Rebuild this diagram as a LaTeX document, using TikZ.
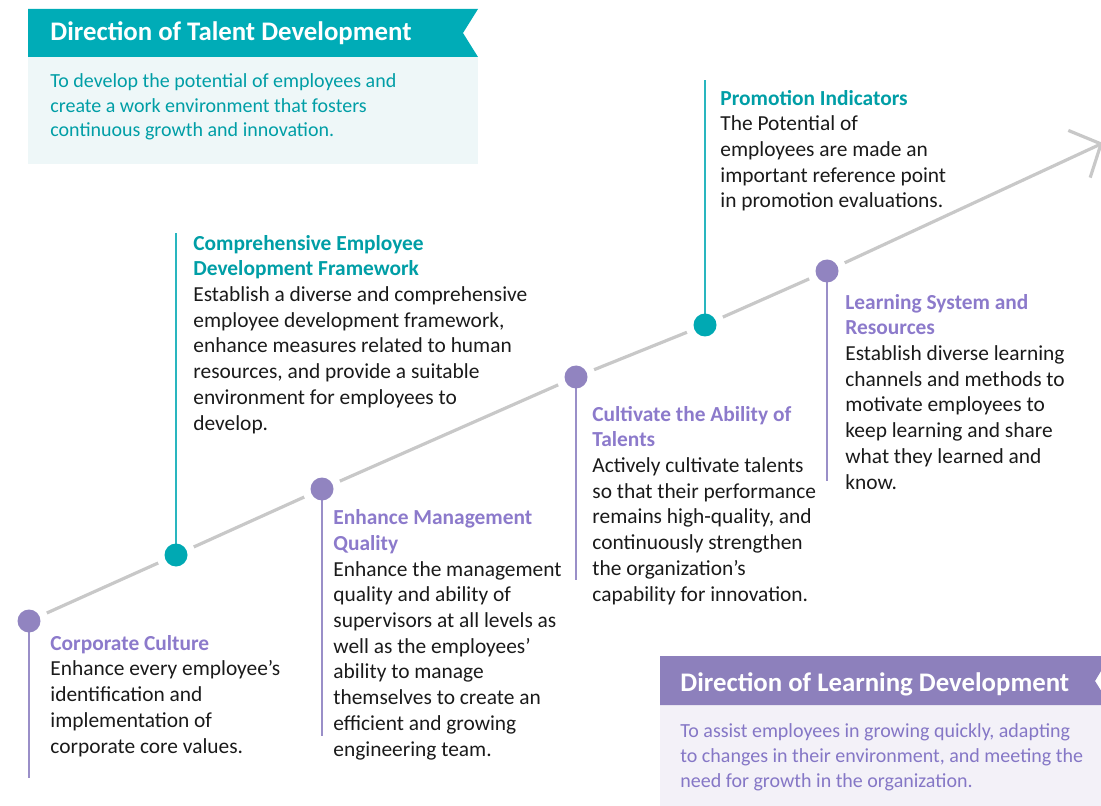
\documentclass[tikz,border=0pt]{standalone}
\usepackage{fontspec}
\setmainfont{Carlito}
\usetikzlibrary{arrows.meta,backgrounds,positioning}

\definecolor{talentteal}{HTML}{00ACB7}
\definecolor{dotteal}{HTML}{00A9B3}
\definecolor{stemteal}{HTML}{29B6BF}
\definecolor{talenttext}{HTML}{009EA6}
\definecolor{talentpale}{HTML}{EEF7F8}
\definecolor{learnpurple}{HTML}{8D80BC}
\definecolor{dotpurple}{HTML}{9184C0}
\definecolor{stempurple}{HTML}{9A8FC8}
\definecolor{purpletext}{HTML}{8C7ACB}
\definecolor{learntext}{HTML}{8577C6}
\definecolor{learnpale}{HTML}{F3F1F8}
\definecolor{trackgray}{HTML}{C8C8C8}
\definecolor{bodyblack}{HTML}{1A1A1A}

\newcommand{\stagetitle}[2]{\textcolor{#1}{\bfseries #2}}

% multi-line nodes are placed by the baseline of their last line
\tikzset{
  dot/.style={circle, fill=#1, minimum size=11.5pt, inner sep=0pt, outer sep=4pt},
  stem/.style={draw=#1, line width=1pt},
  track/.style={draw=trackgray, line width=1.6pt},
  info/.style={anchor=base west, inner sep=0pt, align=left, text=bodyblack,
    font=\fontsize{10.7}{12.85}\selectfont},
  headline/.style={anchor=base west, inner sep=0pt, text=white,
    font=\fontsize{13.4}{15}\selectfont\bfseries},
  summary/.style={anchor=base west, inner sep=0pt, align=left,
    font=\fontsize{10}{12.3}\selectfont},
}

\begin{document}
\begin{tikzpicture}[x=0.5pt, y=-0.5pt]
  \useasboundingbox (0,0) rectangle (1101,806);

  % -- Direction boxes --
  \fill[talentpale] (28,57) rectangle (478,164);
  \fill[talentteal] (28,9) -- (478,9) -- (463,33) -- (478,57) -- (28,57) -- cycle;
  \fill[learnpale] (660,705) rectangle (1110,806);
  \fill[learnpurple] (660,656) -- (1110,656) -- (1095,681) -- (1110,705) -- (660,705) -- cycle;

  \node[headline] (talentHead) at (50,41) {Direction of Talent Development};
  \node[summary, text=talenttext] (talentText) at (50,137)
    {To develop the potential of employees and\\create a work environment that fosters\\continuous growth and innovation.};
  \node[headline] (learnHead) at (680,691) {Direction of Learning Development};
  \node[summary, text=learntext] (learnText) at (680,787)
    {To assist employees in growing quickly, adapting\\to changes in their environment, and meeting the\\need for growth in the organization.};

  % -- Milestones along the track --
  \node[dot=dotpurple] (culture) at (29,621) {};
  \node[dot=dotteal] (framework) at (176,555) {};
  \node[dot=dotpurple] (management) at (322,489) {};
  \node[dot=dotpurple] (ability) at (576,377) {};
  \node[dot=dotteal] (promotion) at (705,325) {};
  \node[dot=dotpurple] (learning) at (827,271) {};
  \coordinate (tip) at (1103,143);

  \draw[track] (culture) -- (framework);
  \draw[track] (framework) -- (management);
  \draw[track] (management) -- (ability);
  \draw[track] (ability) -- (promotion);
  \draw[track] (promotion) -- (learning);
  \draw[track, -{Straight Barb[length=12pt, width=26pt]}] (learning) -- (tip);

  % -- Stems --
  \coordinate (cultureEnd) at (29,778);
  \coordinate (frameworkEnd) at (176,233);
  \coordinate (managementEnd) at (322,736);
  \coordinate (abilityEnd) at (576,580);
  \coordinate (promotionEnd) at (705,80);
  \coordinate (learningEnd) at (827,481);
  \begin{scope}[on background layer]
    \draw[stem=stempurple] (culture.center) -- (cultureEnd);
    \draw[stem=stemteal] (framework.center) -- (frameworkEnd);
    \draw[stem=stempurple] (management.center) -- (managementEnd);
    \draw[stem=stempurple] (ability.center) -- (abilityEnd);
    \draw[stem=stemteal] (promotion.center) -- (promotionEnd);
    \draw[stem=stempurple] (learning.center) -- (learningEnd);
  \end{scope}

  % -- Milestone texts --
  \node[info] (cultureText) at (50,753)
    {\stagetitle{purpletext}{Corporate Culture}\\Enhance every employee’s\\identification and\\implementation of\\corporate core values.};
  \node[info] (frameworkText) at (193,430)
    {\stagetitle{talenttext}{Comprehensive Employee}\\\stagetitle{talenttext}{Development Framework}\\Establish a diverse and comprehensive\\employee development framework,\\enhance measures related to human\\resources, and provide a suitable\\environment for employees to\\develop.};
  \node[info] (managementText) at (333,756)
    {\stagetitle{purpletext}{Enhance Management}\\\stagetitle{purpletext}{Quality}\\Enhance the management\\quality and ability of\\supervisors at all levels as\\well as the employees’\\ability to manage\\themselves to create an\\efficient and growing\\engineering team.};
  \node[info] (abilityText) at (592,601)
    {\stagetitle{purpletext}{Cultivate the Ability of}\\\stagetitle{purpletext}{Talents}\\Actively cultivate talents\\so that their performance\\remains high-quality, and\\continuously strengthen\\the organization’s\\capability for innovation.};
  \node[info] (promotionText) at (720,208)
    {\stagetitle{talenttext}{Promotion Indicators}\\The Potential of\\employees are made an\\important reference point\\in promotion evaluations.};
  \node[info] (learningText) at (845,489)
    {\stagetitle{purpletext}{Learning System and}\\\stagetitle{purpletext}{Resources}\\Establish diverse learning\\channels and methods to\\motivate employees to\\keep learning and share\\what they learned and\\know.};
\end{tikzpicture}
\end{document}
